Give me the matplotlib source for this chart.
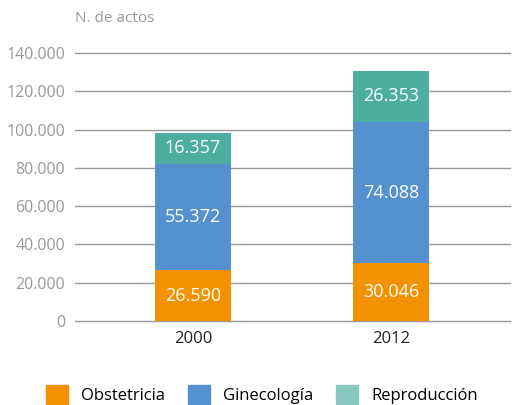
import numpy as np
import matplotlib
matplotlib.use("Agg")
import matplotlib.pyplot as plt
from matplotlib.patches import Patch

years = ["2000", "2012"]
obstetricia = [26590, 30046]
ginecologia = [55372, 74088]
reproduccion = [16357, 26353]
series_names = ["Obstetricia", "Ginecología", "Reproducción"]
yticks = [0, 20000, 40000, 60000, 80000, 100000, 120000, 140000]

bar_colors = ["#F39200", "#5591CF", "#4BAE9F"]
legend_colors = ["#F39200", "#5591CF", "#86C8BE"]

plt.rcParams['font.family'] = ['Open Sans', 'DejaVu Sans']

def fmt(v):
    return "{:,}".format(v).replace(",", ".")

fig = plt.figure(figsize=(5.24, 4.05), dpi=100)
ax = fig.add_axes([0.143, 0.2074, 0.83, 0.6617])

x = np.arange(len(years))
w = 0.385
bottom = np.zeros(len(years))
for vals, col in zip([obstetricia, ginecologia, reproduccion], bar_colors):
    ax.bar(x, vals, w, bottom=bottom, color=col, zorder=3)
    for xi, b, v in zip(x, bottom, vals):
        ax.text(xi, b + v / 2, fmt(v), ha="center", va="center",
                color="white", fontsize=13, zorder=4)
    bottom += np.array(vals)

ax.set_xlim(-0.596, 1.60)
ax.set_ylim(0, 140000)
ax.set_yticks(yticks)
ax.set_yticklabels([fmt(t) for t in yticks], color="#999999", fontsize=11.5)
ax.set_xticks(x)
ax.set_xticklabels(years, color="#222222", fontsize=12)
ax.tick_params(axis="both", length=0)
ax.tick_params(axis="y", pad=7)
ax.tick_params(axis="x", pad=7)
for t in yticks:
    ax.axhline(t, color="#999999", lw=1, zorder=1, clip_on=False)
for s in ax.spines.values():
    s.set_visible(False)

fig.text(0.143, 0.955, "N. de actos", color="#999999", fontsize=11, va="center")

handles = [Patch(color=c) for c in legend_colors]
fig.legend(handles, series_names, loc="lower center", ncol=3, frameon=False,
           bbox_to_anchor=(0.5, -0.035), fontsize=12, handlelength=1.32,
           handleheight=1.32, handletextpad=0.78, columnspacing=1.38)

plt.savefig("out.png", dpi=100)
